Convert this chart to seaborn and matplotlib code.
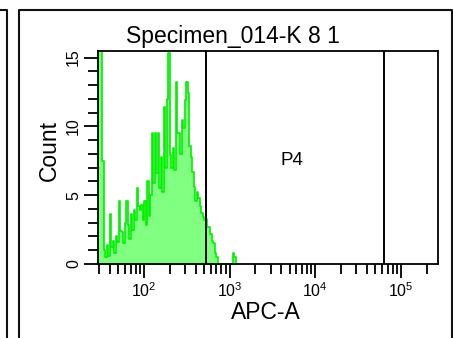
import numpy as np
import pandas as pd
import matplotlib
matplotlib.use("Agg")
import matplotlib.pyplot as plt
from matplotlib.ticker import LogLocator, FuncFormatter, MultipleLocator, NullFormatter
from matplotlib.lines import Line2D
import seaborn as sns

# ---------------- data ----------------
title = "Specimen_014-K 8 1"
x_label = "APC-A"
y_label = "Count"
gate_name = "P4"
gate_bounds = [525, 62500]          # APC-A values of the two gate lines
gate_label_pos = [5280, 7.5]        # APC-A, Count
x_range = [28.8, 2.7e5]
y_range = [0, 15.5]

log_first_edge = 1.46               # log10 of first bin edge
log_bin_width = 0.0175              # bin width in decades
counts = [17, 17, 17, 7.5, 1.0, 0.5, 1.4, 0.6, 3.6, 1.2,
          1.7, 0.8, 2.0, 1.6, 4.6, 2.4, 2.3, 1.5, 3.0, 4.6,
          2.8, 1.8, 3.6, 2.5, 3.9, 3.2, 5.5, 4.2, 3.9, 4.3,
          3.2, 4.6, 2.8, 6.0, 3.5, 5.0, 9.5, 5.9, 9.5, 6.6,
          9.5, 5.5, 7.8, 5.2, 11.4, 7.0, 12.0, 15.3, 7.9, 7.0,
          8.4, 6.8, 13.2, 9.5, 9.5, 8.0, 10.5, 9.9, 11.9, 13.2,
          12.4, 8.6, 7.8, 6.7, 5.6, 4.6, 5.2, 4.8, 4.2, 3.7,
          3.4, 3.2, 3.3, 2.7, 2.7, 2.2, 1.7, 1.5, 0.8, 0.5,
          0, 0, 0, 0, 0, 0, 0, 0, 0, 0,
          0.8, 0.5]

n_bins = len(counts)
edges_log = log_first_edge + log_bin_width * np.arange(n_bins + 1)
centers = 10 ** (edges_log[:-1] + log_bin_width / 2)
df = pd.DataFrame({x_label: centers, y_label: counts})

# ---------------- style ----------------
sns.set_style("white")
plt.rcParams["font.family"] = ["Liberation Sans", "DejaVu Sans"]
plt.rcParams["mathtext.fontset"] = "custom"
plt.rcParams["mathtext.rm"] = "Liberation Sans"
plt.rcParams["mathtext.it"] = "Liberation Sans"
plt.rcParams["mathtext.default"] = "regular"
plt.rcParams["text.color"] = "black"
plt.rcParams["xtick.color"] = "black"
plt.rcParams["ytick.color"] = "black"

W, H = 453, 338
fig = plt.figure(figsize=(W / 100, H / 100), dpi=100)
fig.patch.set_facecolor("white")

ax_l, ax_r, ax_t, ax_b = 97.7, 438, 50.7, 264
ax = fig.add_axes([ax_l / W, 1 - ax_b / H, (ax_r - ax_l) / W, (ax_b - ax_t) / H])
ax.set_facecolor("white")

sns.histplot(data=df, x=x_label, weights=y_label, bins=n_bins,
             binrange=(edges_log[0], edges_log[-1]), log_scale=True,
             element="step", fill=True, facecolor="#80FF80",
             edgecolor="#00F000", linewidth=1.2, alpha=1, ax=ax)

for g in gate_bounds:
    ax.axvline(g, color="black", lw=1.4, zorder=5)
ax.text(gate_label_pos[0], gate_label_pos[1], gate_name, ha="center", va="center",
        fontsize=13.5, color="black")

ax.set_xlim(*x_range)
ax.set_ylim(*y_range)
ax.set_xlabel("")
ax.set_ylabel("")

ax.xaxis.set_major_locator(LogLocator(base=10, numticks=10))
ax.xaxis.set_minor_locator(LogLocator(base=10, subs=np.arange(2, 10), numticks=20))
ax.xaxis.set_major_formatter(FuncFormatter(lambda v, p: r"$10^{%d}$" % round(np.log10(v))))
ax.xaxis.set_minor_formatter(NullFormatter())
ax.yaxis.set_major_locator(MultipleLocator(5))
ax.yaxis.set_minor_locator(MultipleLocator(1))

for s in ax.spines.values():
    s.set_visible(True)
    s.set_color("black")
    s.set_linewidth(1.3)

ax.tick_params(which="both", bottom=True, left=True, top=False, right=False)
ax.tick_params(which="major", direction="out", length=10, width=1.3, color="black",
               labelsize=11.5, labelcolor="black")
ax.tick_params(which="minor", direction="out", length=7.5, width=1.3, color="black")
ax.tick_params(axis="x", which="major", pad=2.5)
ax.tick_params(axis="y", which="major", pad=2, labelrotation=90)
for lab in ax.get_yticklabels():
    lab.set_va("center")

# texts
fig.text(233 / W, 1 - 42.5 / H, title, ha="center", va="baseline", fontsize=16.5)
fig.text(49 / W, 1 - 151 / H, y_label, ha="center", va="center", rotation=90, fontsize=16.5)
fig.text(266 / W, 1 - 312.5 / H, x_label, ha="center", va="center", fontsize=16.5)

# panel frames
def fline(xs, ys, lw=1.5):
    fig.add_artist(Line2D([x / W for x in xs], [1 - y / H for y in ys],
                          color="#111111", lw=lw, transform=fig.transFigure))

fline([18.5, 18.5, 451.5, 451.5], [338, 10, 10, 338])
fline([0, 7, 7], [10, 10, 338])

fig.savefig("out.png", dpi=100, facecolor="white")
